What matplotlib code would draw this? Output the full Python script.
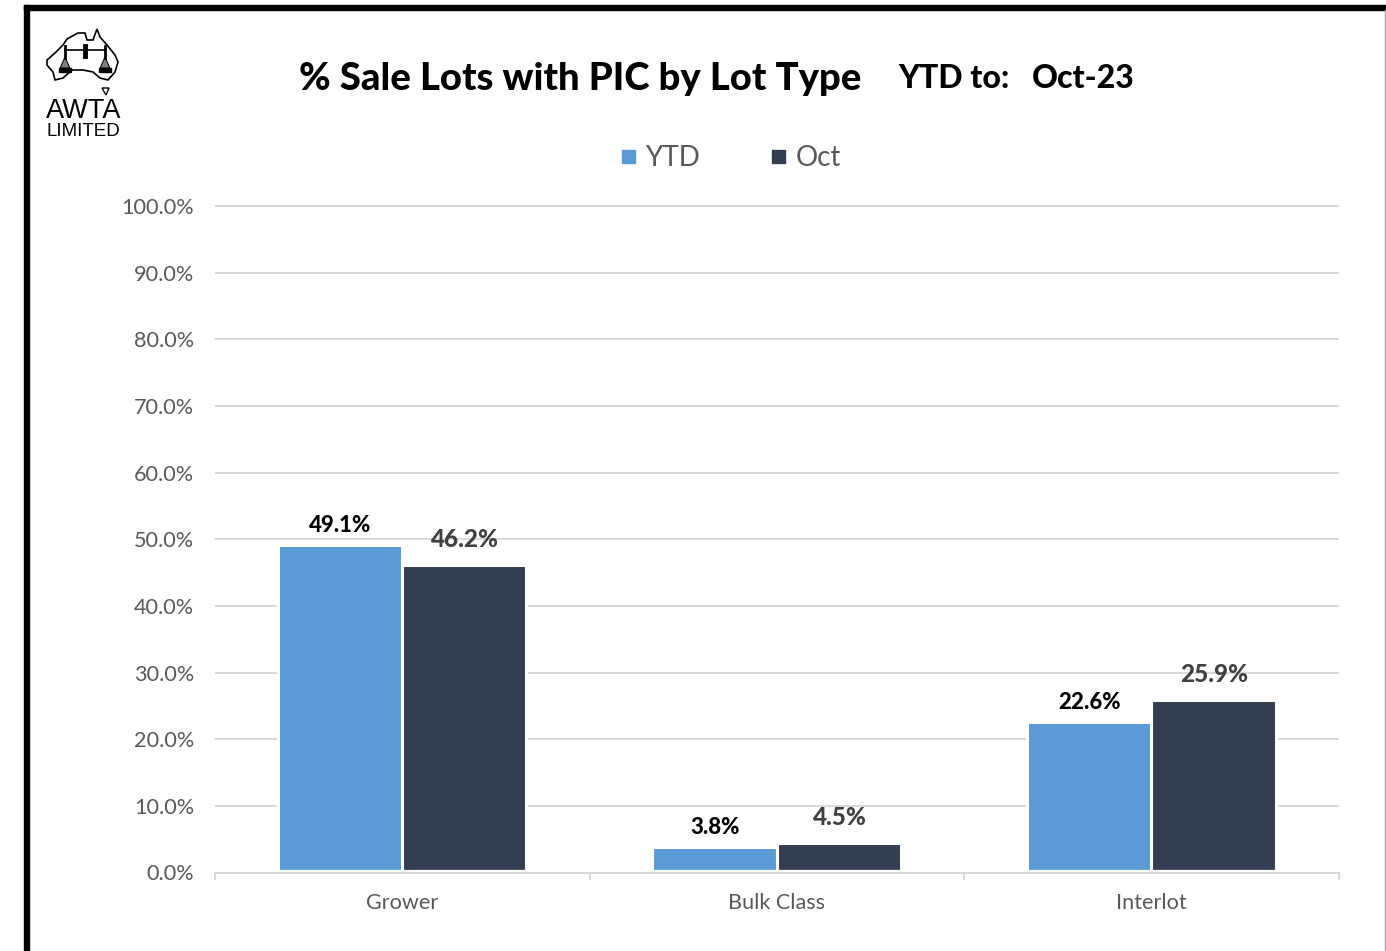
import numpy as np
import matplotlib.pyplot as plt
from matplotlib.lines import Line2D
from matplotlib.patches import Polygon, Rectangle

W, H = 1386, 951

categories = ['Grower', 'Bulk Class', 'Interlot']
ytd = [49.1, 3.8, 22.6]
oct_vals = [46.2, 4.5, 25.9]
yticks = [0, 10, 20, 30, 40, 50, 60, 70, 80, 90, 100]

plt.rcParams['font.family'] = ['Lato', 'DejaVu Sans']

fig = plt.figure(figsize=(W / 100, H / 100), dpi=100, facecolor='white')
ax = fig.add_axes([215 / W, 1 - 872.5 / H, (1339 - 215) / W, 666.5 / H])

index = np.arange(len(categories))
bar_width = 0.332
shift = -0.001
ax.bar(index - bar_width / 2 + shift, ytd, bar_width, color='#5b9bd5', edgecolor='white', linewidth=2.2,
       label='YTD', zorder=3, clip_on=False)
ax.bar(index + bar_width / 2 + shift, oct_vals, bar_width, color='#333f50', edgecolor='white', linewidth=2.2,
       label='Oct', zorder=3, clip_on=False)
# small white gap between the bars and the axis line
ax.axhline(0.3, color='white', linewidth=1.6, zorder=4)

ax.set_xlim(-0.5, 2.5)
ax.set_ylim(0, 100)
ax.set_yticks(yticks)
ax.set_yticklabels([f'{v:.1f}%' for v in yticks], fontsize=15.6, color='#595959')
ax.set_xticks(index)
ax.set_xticklabels(categories, fontsize=15.6, color='#595959')
ax.tick_params(axis='x', length=0, pad=15)
ax.tick_params(axis='y', length=0, pad=15)
ax.grid(axis='y', color='#d9d9d9', linewidth=1.4, zorder=0, clip_on=False, solid_capstyle='butt')
ax.set_axisbelow(True)
for name in ['top', 'right', 'left']:
    ax.spines[name].set_visible(False)
ax.spines['bottom'].set_color('#d9d9d9')
ax.spines['bottom'].set_linewidth(1.4)
ax.spines['bottom'].set_zorder(5)
for x in [-0.5, 0.5, 1.5, 2.5]:
    ax.plot([x, x], [0, -1], color='#d9d9d9', linewidth=1.4, clip_on=False, zorder=1)

# data labels, YTD ones are smaller and black like the original
for x, v in zip(index - bar_width / 2, ytd):
    ax.annotate(f'{v:.1f}%', (x, v), xytext=(0, 9), textcoords='offset pixels', ha='center', va='bottom',
                fontsize=16, fontweight=900, color='black', zorder=6)
for x, v in zip(index + bar_width / 2, oct_vals):
    ax.annotate(f'{v:.1f}%', (x, v), xytext=(0, 14), textcoords='offset pixels', ha='center', va='bottom',
                fontsize=17.5, fontweight=900, color='#404040', zorder=6)

# titles
fig.text(580 / W, 1 - 79 / H, '% Sale Lots with PIC by Lot Type', fontsize=27.5, fontweight=900,
         ha='center', va='center', color='black')
fig.text(954 / W, 1 - 79 / H, 'YTD to:', fontsize=23, fontweight=900, ha='center', va='center', color='black')
fig.text(1083 / W, 1 - 79 / H, 'Oct-23', fontsize=23, fontweight=900, ha='center', va='center', color='black')


def px(x, y):
    return x / W, 1 - y / H


# legend placed by hand, matplotlib's spacing does not get this close
for name, col, mx, tx in [('YTD', '#5b9bd5', 628, 645), ('Oct', '#333f50', 778, 796)]:
    fig.add_artist(Rectangle(px(mx - 6.5, 163), 13 / W, 13 / H, transform=fig.transFigure, color=col))
    fig.text(tx / W, 1 - 158 / H, name, fontsize=20, color='#595959', ha='left', va='center')

# page border
fig.add_artist(Rectangle(px(24, 951), 5 / W, 946 / H, transform=fig.transFigure, color='black'))
fig.add_artist(Rectangle(px(24, 10), (W - 24) / W, 5 / H, transform=fig.transFigure, color='black'))
fig.add_artist(Rectangle(px(1385, 951), 1 / W, 941 / H, transform=fig.transFigure, color='#a6a6a6'))

# AWTA logo
aus = [(47, 60), (55, 53), (63, 45), (67, 39), (78, 33), (85, 33), (87, 40), (93, 40), (97, 29), (100, 37),
       (107, 45), (115, 55), (118, 62), (115, 72), (108, 80), (100, 78), (93, 72), (83, 70), (72, 70),
       (63, 78), (55, 80), (53, 72), (47, 65)]
fig.add_artist(Polygon([px(*p) for p in aus], closed=True, fill=False, edgecolor='black', linewidth=1.2,
                       transform=fig.transFigure))
tas = [(102, 88), (109, 88), (106, 95)]
fig.add_artist(Polygon([px(*p) for p in tas], closed=True, fill=False, edgecolor='black', linewidth=1.0,
                       transform=fig.transFigure))
fig.add_artist(Line2D([px(65, 0)[0], px(105, 0)[0]], [px(0, 50)[1]] * 2, color='black', linewidth=1.2))
fig.add_artist(Line2D([px(85, 0)[0]] * 2, [px(0, 46)[1], px(0, 56)[1]], color='black', linewidth=3.5))
for cx in [65, 105]:
    fig.add_artist(Line2D([px(cx, 0)[0]] * 2, [px(0, 46)[1], px(0, 58)[1]], color='black', linewidth=2))
    scale = [(cx, 57), (cx - 5, 68), (cx + 5, 68)]
    fig.add_artist(Polygon([px(*p) for p in scale], closed=True, facecolor='#808080', edgecolor='black',
                           linewidth=0.7, transform=fig.transFigure))
    fig.add_artist(Rectangle(px(cx - 6, 72), 12 / W, 4 / H, transform=fig.transFigure, color='black'))
fig.text(83.5 / W, 1 - 111 / H, 'AWTA', fontsize=19.5, ha='center', va='center', color='black', family='Liberation Sans')
fig.text(83 / W, 1 - 131 / H, 'LIMITED', fontsize=13.5, ha='center', va='center', color='black', family='Liberation Sans')

plt.savefig('out.png', dpi=100)
